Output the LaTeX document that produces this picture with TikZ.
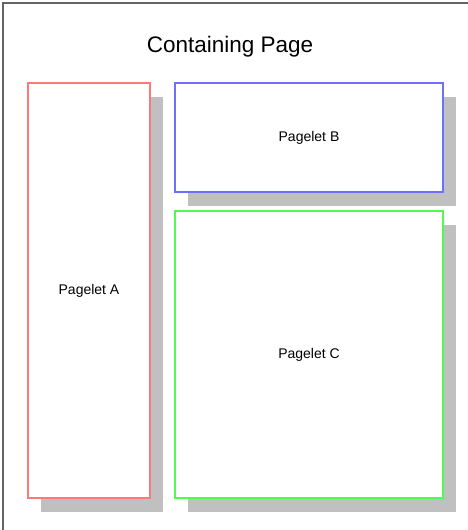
\documentclass[tikz,border=0pt]{standalone}
\usepackage{fontspec}
\setmainfont{Liberation Sans}
\usetikzlibrary{positioning}

\definecolor{pageA}{RGB}{255,120,120}
\definecolor{pageB}{RGB}{110,110,255}
\definecolor{pageC}{RGB}{80,250,80}
\definecolor{shade}{RGB}{192,192,192}
\definecolor{frame}{RGB}{100,100,100}

\tikzset{
	pagelet/.style={fill=white, line width=1.1pt, inner sep=0pt, font=\fontsize{14}{16}\selectfont},
	shadebox/.style={fill=shade, draw=none, inner sep=0pt}
}

\begin{document}
\begin{tikzpicture}[x=1pt, y=-1pt]
		\clip (0,0) rectangle (468,530);
		\fill[white] (0,0) rectangle (468,530);
		% containing page
		\node[draw=frame, line width=2.2pt, minimum width=480pt, minimum height=540pt, inner sep=0pt] (page) at (243,273) {};
		\node[font=\fontsize{22.5}{26}\selectfont] (title) at (230,47) {Containing Page};
		% pagelets with their shadows
		\foreach \cx/\cy/\w/\h/\col/\alph/\name in {
			89/290.5/122/415/pageA/A/{Pagelet A},
			309/137.5/268/109/pageB/B/{Pagelet B},
			309/354.5/268/287/pageC/C/{Pagelet C}
		 }{
		 	\node[shadebox, minimum width=\w pt, minimum height=\h pt] (\alph shadow) at (\cx+12.5,\cy+13.5) {};
		 	\node[pagelet, draw=\col, minimum width=\w pt, minimum height=\h pt] (\alph) at (\cx,\cy) {\name};
		 }
	\end{tikzpicture}
\end{document}
